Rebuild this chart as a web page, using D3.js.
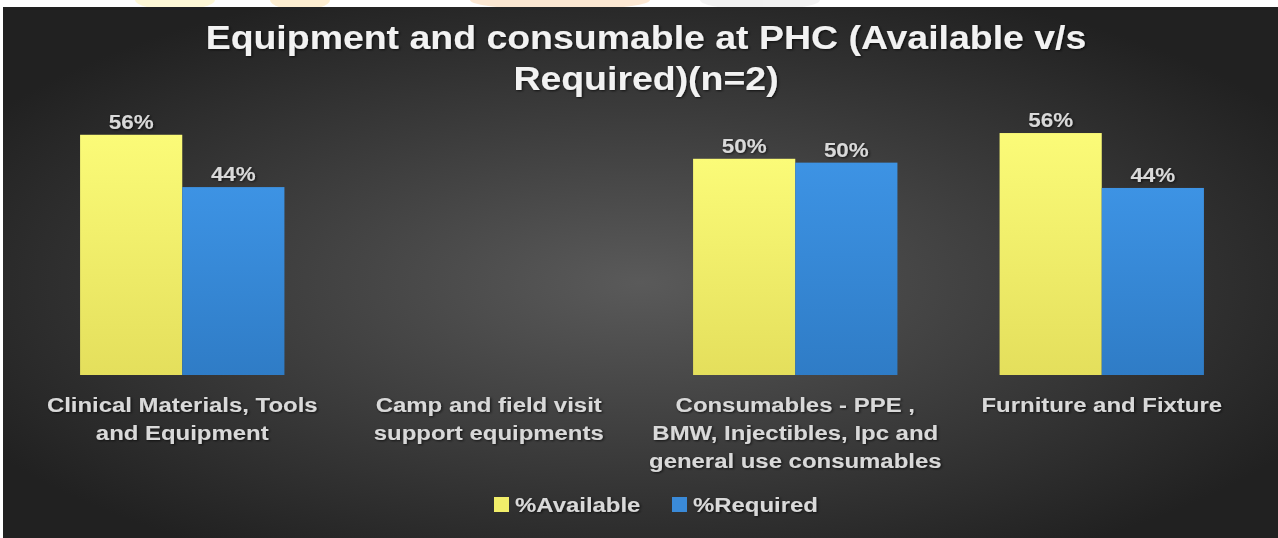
<!DOCTYPE html>
<html>
<head>
<meta charset="utf-8">
<script src="https://cdn.jsdelivr.net/npm/d3@7"></script>
<style>
  body { margin: 0; background: #fff; }
  svg { display: block; }
  text { font-family: "Liberation Sans", Arial, sans-serif; font-weight: bold; }
</style>
</head>
<body>
<svg id="chart" width="1278" height="538"></svg>
<script>
// chart data
const categories = [
  "Clinical Materials, Tools\nand Equipment",
  "Camp and field visit\nsupport equipments",
  "Consumables - PPE ,\nBMW, Injectibles, Ipc and\ngeneral use consumables",
  "Furniture and Fixture"
];
const seriesNames = ["%Available", "%Required"];
const available = [56, null, 50.4, 56.4];
const required = [43.8, null, 49.5, 43.6];
const titleLines = ["Equipment and consumable at PHC (Available v/s", "Required)(n=2)"];

const width = 1278, height = 538;
const margin = { top: 7, left: 3 };
const baseY = 375;
const stretch = 1.14; // the source text is drawn a bit wide

const svg = d3.select("#chart");
const defs = svg.append("defs");

// background gradient
const bg = defs.append("radialGradient").attr("id", "bg")
  .attr("cx", "50%").attr("cy", "52%").attr("r", "60%");
bg.append("stop").attr("offset", "0%").attr("stop-color", "#5a5a5a");
bg.append("stop").attr("offset", "100%").attr("stop-color", "#212121");

const gy = defs.append("linearGradient").attr("id", "gy").attr("x1", 0).attr("y1", 0).attr("x2", 0).attr("y2", 1);
gy.append("stop").attr("offset", "0%").attr("stop-color", "#fbfb78");
gy.append("stop").attr("offset", "100%").attr("stop-color", "#e4df5c");
const gb = defs.append("linearGradient").attr("id", "gb").attr("x1", 0).attr("y1", 0).attr("x2", 0).attr("y2", 1);
gb.append("stop").attr("offset", "0%").attr("stop-color", "#3d93e4");
gb.append("stop").attr("offset", "100%").attr("stop-color", "#2f7cc6");

const shadow = defs.append("filter").attr("id", "sh").attr("x", "-10%").attr("y", "-30%").attr("width", "120%").attr("height", "160%");
shadow.append("feDropShadow").attr("dx", 1).attr("dy", 1).attr("stdDeviation", 1.2)
  .attr("flood-color", "#000").attr("flood-opacity", 0.7);

// watermark strip at the top
svg.append("rect").attr("width", width).attr("height", height).attr("fill", "#fff");
const wm = svg.append("g").attr("opacity", 0.22);
wm.append("ellipse").attr("cx", 175).attr("cy", 0).attr("rx", 40).attr("ry", 10).attr("fill", "#ffe24a");
wm.append("ellipse").attr("cx", 300).attr("cy", 0).attr("rx", 30).attr("ry", 10).attr("fill", "#f7b733");
wm.append("ellipse").attr("cx", 560).attr("cy", 0).attr("rx", 90).attr("ry", 10).attr("fill", "#f29a3a");
wm.append("ellipse").attr("cx", 760).attr("cy", 0).attr("rx", 60).attr("ry", 10).attr("fill", "#c8c8c8");

svg.append("rect").attr("x", margin.left).attr("y", margin.top)
  .attr("width", width - margin.left).attr("height", height - margin.top)
  .attr("fill", "url(#bg)");

// title
svg.append("g").selectAll("text").data(titleLines).join("text")
  .attr("transform", (d, i) => `translate(646,${49 + i * 41}) scale(1.135,1)`)
  .attr("text-anchor", "middle").attr("font-size", 33).attr("fill", "#f2f2f2")
  .attr("filter", "url(#sh)")
  .text(d => d);

// scales
const x0 = d3.scaleBand().domain(categories).range([29, 1255]).padding(0);
const x1 = d3.scaleBand().domain(seriesNames).range([0, x0.bandwidth()]).paddingInner(0).paddingOuter(0.5);
const y = d3.scaleLinear().domain([0, 60]).range([baseY, baseY - 60 * 4.29]);
const fills = { "%Available": "url(#gy)", "%Required": "url(#gb)" };
const legendFills = { "%Available": "#f2ee6a", "%Required": "#3a8ad8" };

const rows = categories.map((c, i) => ({ cat: c, vals: [
  { s: seriesNames[0], v: available[i] },
  { s: seriesNames[1], v: required[i] }
].filter(d => d.v != null) }));

const groups = svg.append("g").selectAll("g").data(rows).join("g")
  .attr("transform", d => `translate(${x0(d.cat)},0)`);

groups.selectAll("rect").data(d => d.vals).join("rect")
  .attr("x", d => x1(d.s))
  .attr("y", d => y(d.v))
  .attr("width", x1.bandwidth())
  .attr("height", d => baseY - y(d.v))
  .attr("fill", d => fills[d.s]);

groups.selectAll("text").data(d => d.vals).join("text")
  .attr("transform", d => `translate(${x1(d.s) + x1.bandwidth() / 2},${y(d.v) - 6}) scale(1.15,1)`)
  .attr("text-anchor", "middle").attr("font-size", 19.5).attr("fill", "#d9d9d9")
  .attr("filter", "url(#sh)")
  .text(d => Math.round(d.v) + "%");

// category axis
const axis = svg.append("g").attr("transform", `translate(0,${baseY})`)
  .call(d3.axisBottom(x0).tickSize(0).tickFormat(""));
axis.select(".domain").remove();
axis.selectAll(".tick").each(function (d) {
  const t = d3.select(this).append("text")
    .attr("transform", `scale(${stretch},1)`)
    .attr("text-anchor", "middle").attr("font-size", 21).attr("fill", "#d9d9d9")
    .attr("filter", "url(#sh)");
  d.split("\n").forEach((line, i) => {
    t.append("tspan").attr("x", 0).attr("y", 37 + i * 28).text(line);
  });
});

// legend
const legendX = [494, 672];
const lg = svg.append("g").selectAll("g").data(seriesNames).join("g")
  .attr("transform", (d, i) => `translate(${legendX[i]},497)`);
lg.append("rect").attr("width", 15).attr("height", 15).attr("fill", d => legendFills[d]);
lg.append("text").attr("transform", `translate(21,15) scale(${stretch},1)`)
  .attr("font-size", 21).attr("fill", "#d9d9d9")
  .attr("filter", "url(#sh)").text(d => d);
</script>
</body>
</html>
